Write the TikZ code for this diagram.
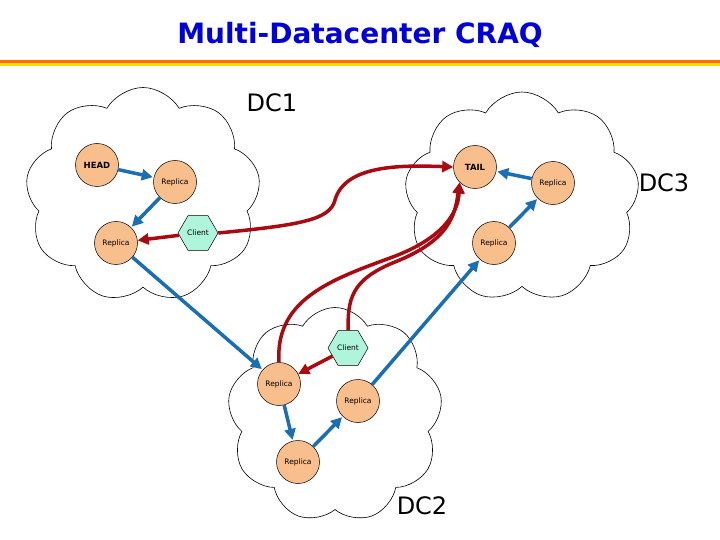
\documentclass[tikz,border=0pt]{standalone}
\usepackage{fontspec}
\setmainfont{DejaVu Sans}
\usetikzlibrary{shapes.symbols,shapes.geometric,arrows.meta}
\definecolor{chainblue}{RGB}{25,110,180}
\definecolor{reqred}{RGB}{170,10,15}
\definecolor{peach}{RGB}{248,190,140}
\definecolor{mint}{RGB}{175,245,220}
\definecolor{ttlblue}{RGB}{0,0,220}
\begin{document}
\begin{tikzpicture}[x=1pt,y=-1pt,
  cl/.style={cloud,cloud puffs=9,cloud puff arc=120,draw=black,line width=0.6pt,fill=white,aspect=1.1},
  rep/.style={circle,draw=black,line width=0.5pt,fill=peach,minimum size=43pt,inner sep=0pt,font=\fontsize{7.5}{8}\selectfont},
  cli/.style={regular polygon,regular polygon sides=6,draw=black,line width=0.5pt,fill=mint,minimum size=40pt,inner sep=0pt,font=\fontsize{7.5}{8}\selectfont},
  chain/.style={draw=chainblue,line width=3.5pt,-{Triangle[length=11pt,width=11pt]},shorten >=1pt},
  req/.style={draw=reqred,line width=3.5pt,-{Triangle[length=11pt,width=11pt]}},
  dc/.style={font=\fontsize{24}{28}\selectfont}]
\useasboundingbox (0,0) rectangle (720,540);
\fill[white] (0,0) rectangle (720,540);
\node[font=\bfseries\fontsize{28}{32}\selectfont,text=ttlblue] (title) at (360,35) {Multi-Datacenter CRAQ};
\fill[orange!85!red] (0,60) rectangle (720,63.5);
\fill[yellow!80!orange] (0,63.5) rectangle (720,66);
% clouds
\node[cl,minimum width=235pt,minimum height=215pt] (c1) at (143,195) {};
\node[cl,minimum width=235pt,minimum height=210pt] (c3) at (522,197) {};
\node[cl,minimum width=215pt,minimum height=215pt] (c2) at (335,415) {};
\node[dc] (dc1) at (272,103) {DC1};
\node[dc] (dc2) at (422,506) {DC2};
\node[dc] (dc3) at (664,183) {DC3};
% nodes
\node[rep,font=\bfseries\fontsize{8.5}{9}\selectfont] (head) at (97,165) {HEAD};
\node[rep] (r1) at (175,182) {Replica};
\node[rep] (r2) at (116,243) {Replica};
\node[cli] (k1) at (198,233) {Client};
\node[rep,font=\bfseries\fontsize{8.5}{9}\selectfont] (tail) at (475,167) {TAIL};
\node[rep] (r6) at (553,183) {Replica};
\node[rep] (r5) at (494,243) {Replica};
\node[rep] (ra) at (279,384) {Replica};
\node[cli] (k2) at (348,348) {Client};
\node[rep] (rb) at (358,401) {Replica};
\node[rep] (rc) at (298,462) {Replica};
% chain
\draw[chain] (head) -- (r1);
\draw[chain] (r1) -- (r2);
\draw[chain] (r2) -- (ra);
\draw[chain] (ra) -- (rc);
\draw[chain] (rc) -- (rb);
\draw[chain] (rb) -- (r5);
\draw[chain] (r5) -- (r6);
\draw[chain] (r6) -- (tail);
% requests
\draw[req] (k1) -- (r2);
\draw[req] (k2) -- (ra);
\draw[req] (k1.east) .. controls (300,225) and (330,220) .. (335,200)
   .. controls (345,165) and (400,165) .. (tail.west);
\draw[req] (k2.north) .. controls (348,300) and (350,280) .. (395,262)
   .. controls (450,240) and (455,215) .. (tail.south west);
\draw[req] (ra.north) .. controls (275,300) and (330,280) .. (390,258)
   .. controls (440,240) and (458,215) .. (tail.south west);
\end{tikzpicture}
\end{document}
